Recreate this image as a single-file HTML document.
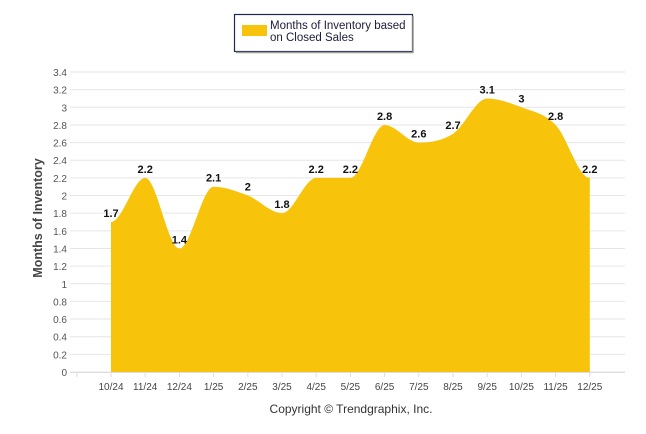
<!DOCTYPE html>
<html><head><meta charset="utf-8"><style>
body{margin:0;background:#fff;font-family:"Liberation Sans",sans-serif}
svg{display:block}
</style></head><body>
<svg id="c" width="646" height="434" font-family="Liberation Sans, sans-serif">
<g>
<rect x="234.5" y="14.5" width="178" height="37" fill="#fff" stroke="#1f2a4f" stroke-width="1.2"/>
<line x1="413" y1="16" x2="413" y2="53" stroke="#999" stroke-width="1.5"/>
<line x1="236" y1="52.5" x2="413" y2="52.5" stroke="#999" stroke-width="1.5"/>
<rect x="242" y="25" width="25" height="11" fill="#f7c40b"/>
<text x="270" y="29" font-size="11.5" fill="#1c1c3c">Months of Inventory based</text>
<text x="270" y="41" font-size="11.5" fill="#1c1c3c">on Closed Sales</text>
</g>
<text transform="translate(42,218) rotate(-90)" text-anchor="middle" font-size="12.5" font-weight="bold" fill="#444">Months of Inventory</text>
<text x="351" y="413" text-anchor="middle" font-size="12" fill="#333">Copyright © Trendgraphix, Inc.</text>
<g id="grid"></g><g id="area"></g><g id="labels"></g><g id="xaxis"></g>
</svg>
<script>
const categories=["10/24","11/24","12/24","1/25","2/25","3/25","4/25","5/25","6/25","7/25","8/25","9/25","10/25","11/25","12/25"];
const values=[1.7,2.2,1.4,2.1,2.0,1.8,2.2,2.2,2.8,2.6,2.7,3.1,3.0,2.8,2.2];
const yTicks=[0,0.2,0.4,0.6,0.8,1,1.2,1.4,1.6,1.8,2,2.2,2.4,2.6,2.8,3,3.2,3.4];
const NS="http://www.w3.org/2000/svg";
const y=v=>372-v*(300/3.4);
const x=i=>111+i*34.2;
function mk(t,a,p){const e=document.createElementNS(NS,t);for(const k in a)e.setAttribute(k,a[k]);p.appendChild(e);return e;}
const grid=document.getElementById('grid');
yTicks.forEach(v=>{
 const l=mk('line',{x1:70,x2:625,y1:y(v),y2:y(v),stroke:'#e6e6e6','stroke-width':1},grid);
 
 
 const t=mk('text',{x:67,y:y(v)+4,'text-anchor':'end','font-size':10,fill:'#555'},grid);
 t.textContent=String(v);
 
 
});
const xa=document.getElementById('xaxis');
mk('line',{x1:70,x2:625,y1:372.5,y2:372.5,stroke:'#ddd'},xa);
for(let i=-1;i<categories.length;i++){mk('line',{x1:x(i),x2:x(i),y1:372,y2:377,stroke:'#ddd'},xa);}
categories.forEach((c,i)=>{
 const t=mk('text',{x:x(i),y:390,'text-anchor':'middle','font-size':10,fill:'#444'},xa);
 t.textContent=c;
 
 
});
// smooth path (monotone-ish cardinal)
const pts=values.map((v,i)=>[x(i),y(v)]);
let d=`M${pts[0][0]},372 L${pts[0][0]},${pts[0][1]}`;
for(let i=0;i<pts.length-1;i++){
 const p0=pts[Math.max(i-1,0)],p1=pts[i],p2=pts[i+1],p3=pts[Math.min(i+2,pts.length-1)];
 const dx=(p2[0]-p1[0])/3;
 let s1=(p2[1]-p0[1])/(p2[0]-p0[0]),s2=(p3[1]-p1[1])/(p3[0]-p1[0]);
 if((p1[1]-p0[1])*(p2[1]-p1[1])<=0)s1=0;
 if((p2[1]-p1[1])*(p3[1]-p2[1])<=0)s2=0;
 d+=` C${p1[0]+dx},${p1[1]+s1*dx} ${p2[0]-dx},${p2[1]-s2*dx} ${p2[0]},${p2[1]}`;
}
d+=` L${pts[pts.length-1][0]},372 Z`;
const a=mk('path',{d:d,fill:'#f7c40b'},document.getElementById('area'));


const lb=document.getElementById('labels');
values.forEach((v,i)=>{
 const t=mk('text',{x:x(i),y:y(v)-5,'text-anchor':'middle','font-size':11,'font-weight':'bold',fill:'#111'},lb);
 t.textContent=String(v);
 
 
});
</script>
</body></html>
